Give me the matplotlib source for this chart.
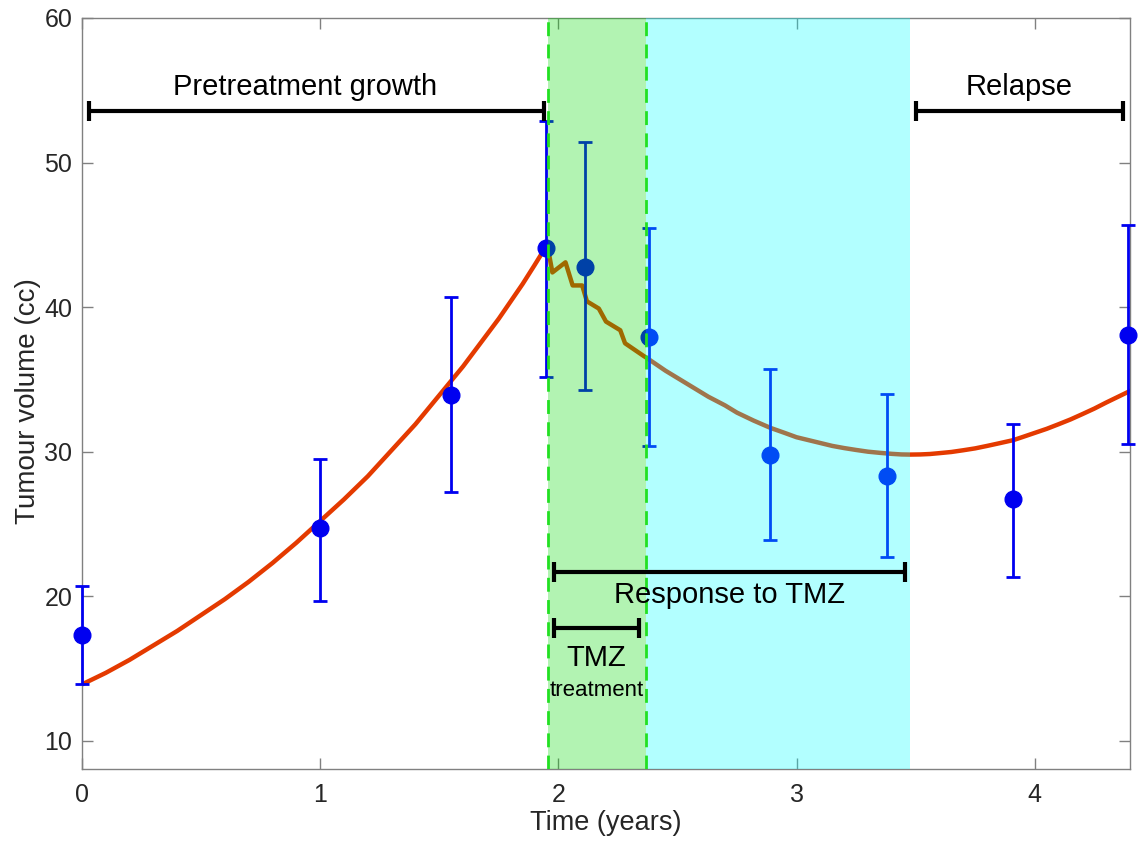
import numpy as np
import matplotlib
matplotlib.use("Agg")
import matplotlib.pyplot as plt

plt.rcParams['font.family'] = ['Liberation Sans', 'DejaVu Sans']

# ===================== data =====================

# measured tumour volumes (cc) with error bars
obs_t = [0.0, 1.0, 1.55, 1.95, 2.11, 2.38, 2.89, 3.38, 3.91, 4.39]
obs_v = [17.3, 24.7, 33.9, 44.1, 42.8, 37.9, 29.8, 28.3, 26.7, 38.1]
err_lo = [13.9, 19.7, 27.2, 35.2, 34.3, 30.4, 23.9, 22.7, 21.3, 30.5]
err_hi = [20.7, 29.5, 40.7, 52.9, 51.4, 45.5, 35.7, 34.0, 31.9, 45.7]

# model curve
fit_t = [0.0, 0.1, 0.2, 0.3, 0.4, 0.5, 0.6, 0.7, 0.8, 0.9, 1.0, 1.1, 1.2, 1.25, 1.3,
         1.35, 1.4, 1.45, 1.5, 1.55, 1.6, 1.65, 1.7, 1.75, 1.8, 1.85, 1.9, 1.93, 1.955,
         1.975, 2.03, 2.06, 2.10, 2.12, 2.17, 2.20, 2.26, 2.28, 2.36,
         2.37, 2.41, 2.45, 2.5, 2.55, 2.63, 2.7, 2.75, 2.82, 2.89, 2.95, 3.0, 3.05,
         3.1, 3.15, 3.2, 3.25, 3.3, 3.35, 3.4, 3.44, 3.475,
         3.52, 3.56, 3.6, 3.65, 3.7, 3.75, 3.8, 3.85, 3.91, 3.95, 4.0, 4.05, 4.1,
         4.15, 4.2, 4.25, 4.3, 4.35, 4.4]
fit_v = [13.9, 14.7, 15.6, 16.6, 17.6, 18.7, 19.8, 21.0, 22.3, 23.7, 25.2, 26.7, 28.3, 29.2, 30.1,
         31.0, 31.9, 32.9, 33.9, 34.9, 35.9, 37.0, 38.1, 39.2, 40.4, 41.6, 42.9, 43.7, 44.2,
         42.4, 43.1, 41.5, 41.5, 40.4, 39.9, 39.0, 38.4, 37.5, 36.6,
         36.5, 36.05, 35.6, 35.1, 34.6, 33.8, 33.2, 32.7, 32.15, 31.65, 31.3, 31.0, 30.8,
         30.6, 30.4, 30.25, 30.12, 30.0, 29.92, 29.85, 29.81, 29.8,
         29.81, 29.84, 29.9, 29.98, 30.1, 30.23, 30.4, 30.58, 30.8, 31.02, 31.3, 31.58, 31.9,
         32.23, 32.6, 32.98, 33.4, 33.8, 34.2]

# treatment phases (years)
tmz_start, tmz_end = 1.955, 2.37
resp_end = 3.475

# ===================== plot =====================

fig = plt.figure(figsize=(11.38, 8.41), dpi=100)
ax = fig.add_axes([0.072, 0.0856, 0.921, 0.893])

ax.plot(fit_t, fit_v, color='#e43a00', lw=3.2, zorder=2)

obs_v = np.array(obs_v)
yerr = [obs_v - np.array(err_lo), np.array(err_hi) - obs_v]
eb = ax.errorbar(obs_t, obs_v, yerr=yerr, fmt='o', color='#0000f0', ms=12,
                 elinewidth=2, capsize=5, capthick=2, zorder=3)
eb[0].set_clip_on(False)
for art in eb[1] + eb[2]:
    art.set_clip_on(False)

# shaded phases on top (semi transparent)
ax.axvspan(tmz_start, tmz_end, color=(0, 0.85, 0), alpha=0.3, lw=0, zorder=4)
ax.axvspan(tmz_end, resp_end, color=(0, 1, 1), alpha=0.3, lw=0, zorder=4)
for xv in (tmz_start, tmz_end):
    ax.axvline(xv, color='#22e022', lw=2, ls=(0, (5, 3)), zorder=5)

# phase brackets
def bracket(x0, x1, y):
    ax.errorbar((x0 + x1) / 2, y, xerr=(x1 - x0) / 2, fmt='none', ecolor='k',
                elinewidth=3, capsize=7, capthick=3, zorder=6)

bracket(0.03, 1.94, 53.6)
ax.text(0.935, 55.25, 'Pretreatment growth', ha='center', va='center', fontsize=21)
bracket(3.50, 4.37, 53.6)
ax.text(3.935, 55.25, 'Relapse', ha='center', va='center', fontsize=21)
bracket(1.98, 3.455, 21.7)
ax.text(2.72, 20.1, 'Response to TMZ', ha='center', va='center', fontsize=21, zorder=7)
bracket(1.98, 2.34, 17.8)
ax.text(2.16, 15.7, 'TMZ', ha='center', va='center', fontsize=21, zorder=7)
ax.text(2.16, 13.45, 'treatment', ha='center', va='center', fontsize=16, zorder=7)

ax.set_xlim(0, 4.4)
ax.set_ylim(8.05, 60)
ax.set_xticks([0, 1, 2, 3, 4])
ax.set_yticks([10, 20, 30, 40, 50, 60])
ax.tick_params(direction='in', length=8, width=1, colors='#808080',
               labelcolor='#262626', labelsize=18, top=True, right=True)
ax.tick_params(axis='x', pad=10)
ax.tick_params(axis='y', pad=7)
for s in ax.spines.values():
    s.set_color('#808080')
    s.set_linewidth(1)
ax.set_xlabel('Time (years)', fontsize=19.5, color='#262626', labelpad=2)
ax.set_ylabel('Tumour volume (cc)', fontsize=20, color='#262626')
ax.yaxis.set_label_coords(-0.039, 0.49)

fig.savefig('out.png', dpi=100)
